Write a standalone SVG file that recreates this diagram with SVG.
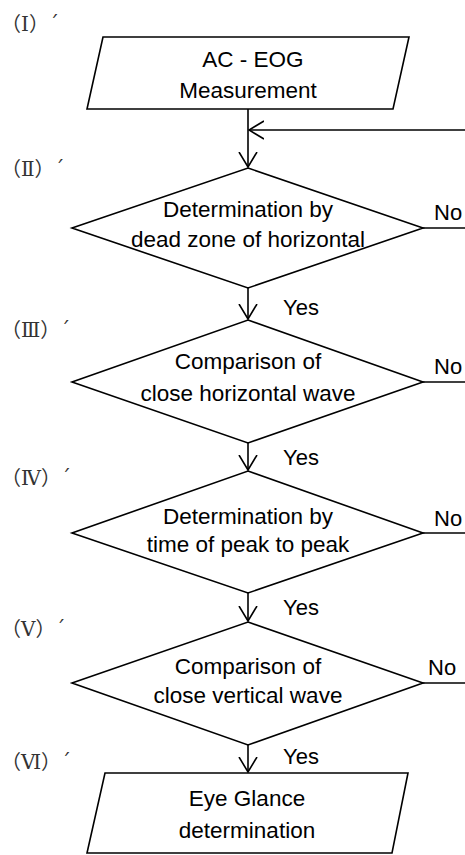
<svg xmlns="http://www.w3.org/2000/svg" width="465" height="855" viewBox="0 0 465 855">
<defs>
<marker id="arr" viewBox="0 0 16 20" refX="15" refY="10" markerWidth="16" markerHeight="20" markerUnits="userSpaceOnUse" orient="auto">
<path d="M0,1 L15,10 L0,19" fill="none" stroke="#000" stroke-width="1.6"/>
</marker>
<style>
.shape{fill:#fff;stroke:#000;stroke-width:1.6}
.line{fill:none;stroke:#000;stroke-width:1.6}
.t{font-family:"Liberation Sans",Arial,sans-serif;font-size:22.5px;fill:#000;text-anchor:middle}
.lbl{font-family:"Liberation Sans",Arial,sans-serif;font-size:22px;fill:#000}
.step{font-family:"DejaVu Serif","Noto Sans CJK JP",serif;font-size:20px;fill:#333}
</style>
</defs>
<rect width="465" height="855" fill="#fff"/>
<g id="step-labels">
<text class="step" x="1" y="31">（Ⅰ）´</text>
<text class="step" x="1" y="176">（Ⅱ）´</text>
<text class="step" x="1" y="337">（Ⅲ）´</text>
<text class="step" x="1" y="485">（Ⅳ）´</text>
<text class="step" x="1" y="636">（Ⅴ）´</text>
<text class="step" x="1" y="769">（Ⅵ）´</text>
</g>
<g id="connectors">
<line class="line" x1="248" y1="109" x2="248" y2="167" marker-end="url(#arr)"/>
<line class="line" x1="465" y1="130" x2="249" y2="130" marker-end="url(#arr)"/>
<line class="line" x1="248" y1="288" x2="248" y2="319" marker-end="url(#arr)"/>
<line class="line" x1="248" y1="443" x2="248" y2="470" marker-end="url(#arr)"/>
<line class="line" x1="248" y1="593" x2="248" y2="621" marker-end="url(#arr)"/>
<line class="line" x1="248" y1="745" x2="248" y2="772" marker-end="url(#arr)"/>
<line class="line" x1="423" y1="228" x2="465" y2="228"/>
<line class="line" x1="423" y1="382" x2="465" y2="382"/>
<line class="line" x1="423" y1="533" x2="465" y2="533"/>
<line class="line" x1="423" y1="683" x2="465" y2="683"/>
<text class="lbl" x="283" y="315">Yes</text>
<text class="lbl" x="283" y="465">Yes</text>
<text class="lbl" x="283" y="615">Yes</text>
<text class="lbl" x="283" y="764">Yes</text>
<text class="lbl" x="434" y="220">No</text>
<text class="lbl" x="434" y="374">No</text>
<text class="lbl" x="434" y="526">No</text>
<text class="lbl" x="428" y="675">No</text>
</g>
<g id="n1">
<polygon class="shape" points="103,37 409,37 393,109 87,109"/>
<text class="t" x="253" y="67">AC - EOG</text>
<text class="t" x="248" y="98">Measurement</text>
</g>
<g id="n2">
<polygon class="shape" points="248,168 423,228 248,288 72,228"/>
<text class="t" x="248" y="217">Determination by</text>
<text class="t" x="248" y="247">dead zone of horizontal</text>
</g>
<g id="n3">
<polygon class="shape" points="248,320 423,382 248,443 72,382"/>
<text class="t" x="248" y="369">Comparison of</text>
<text class="t" x="248" y="401">close horizontal wave</text>
</g>
<g id="n4">
<polygon class="shape" points="248,471 423,533 248,593 72,533"/>
<text class="t" x="248" y="524">Determination by</text>
<text class="t" x="248" y="552">time of peak to peak</text>
</g>
<g id="n5">
<polygon class="shape" points="248,622 423,683 248,745 72,683"/>
<text class="t" x="248" y="674">Comparison of</text>
<text class="t" x="248" y="703">close vertical wave</text>
</g>
<g id="n6">
<polygon class="shape" points="105,773 408,773 392,853 87,853"/>
<text class="t" x="247" y="806">Eye Glance</text>
<text class="t" x="247" y="838">determination</text>
</g>
</svg>
